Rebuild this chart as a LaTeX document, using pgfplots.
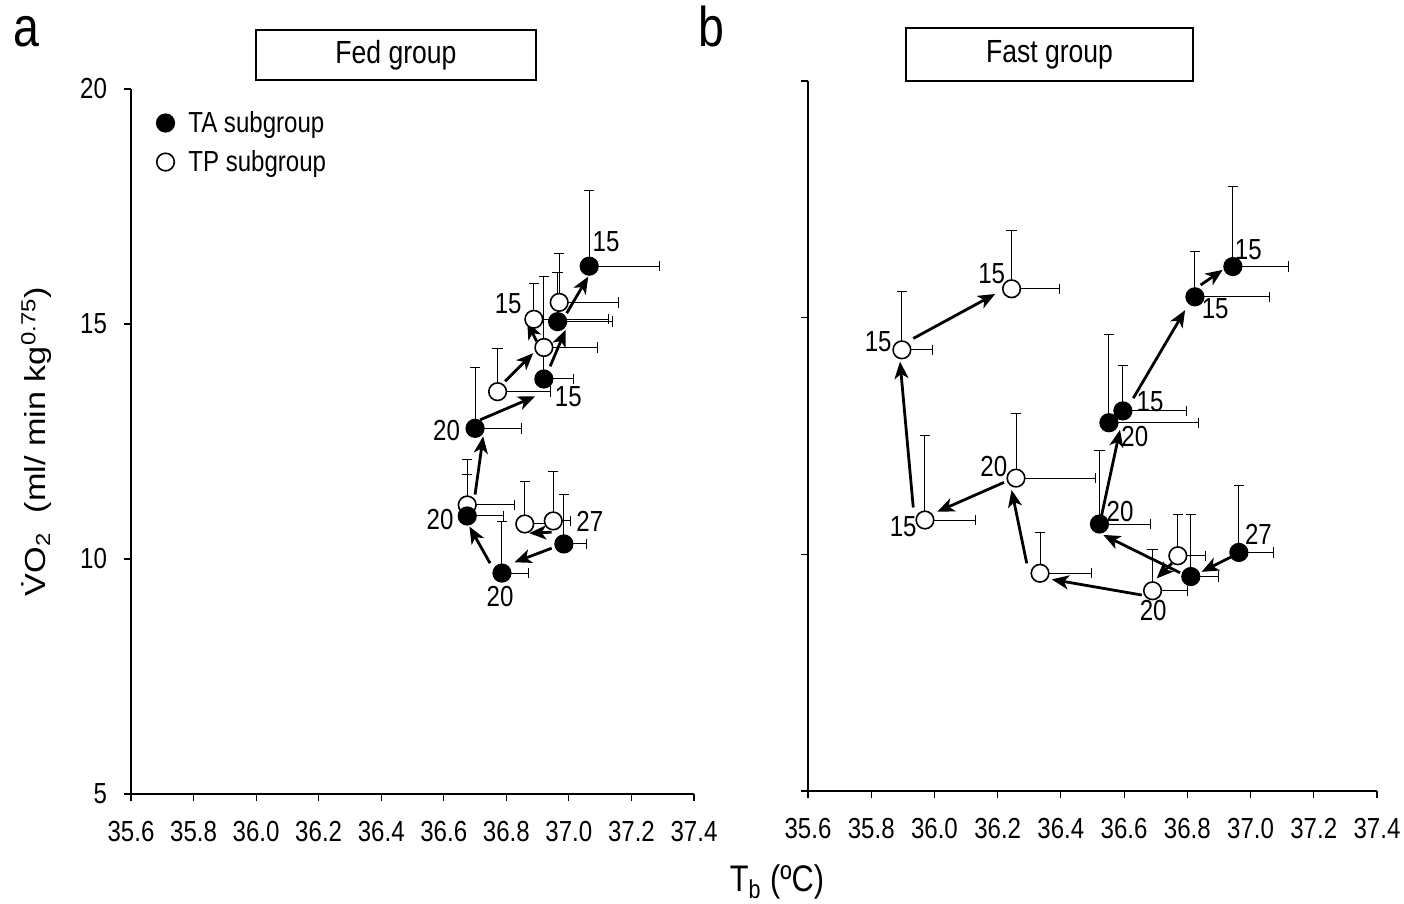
\documentclass[border=0pt]{standalone}
\usepackage{pgfplots}
\pgfplotsset{compat=1.18}
\usepackage{pgfplotstable}
\usepackage{fontspec}
\setmainfont{Liberation Sans}[FakeStretch=0.83]
\newfontfamily\tallsans{Liberation Sans}[FakeStretch=1.18]
\usetikzlibrary{arrows.meta}

\newcommand\lab{\fontsize{14.5}{17}\selectfont}

% Fed group: mean Tb, mean VO2, +SE in x and y
\pgfplotstableread{
x      y      ex     ey
36.984 10.32  0.071  1.06
36.786 9.70   0.084  1.09
36.675 10.915 0.115  0.89
36.700 12.78  0.147  1.30
36.920 13.83  0.095  0.70
36.964 15.05  0.176  1.04
37.065 16.23  0.224  1.62
}\fedTA
\pgfplotstableread{
x      y      ex     ey
36.950 10.81  0.056  1.05
36.859 10.745 0.090  0.90
36.675 11.15  0.150  0.96
36.772 13.56  0.168  0.92
36.920 14.50  0.172  1.52
36.888 15.10  0.238  0.77
36.969 15.46  0.190  1.04
}\fedTP
% Fast group
\pgfplotstableread{
x      y      ex     ey
36.963 10.04  0.111  1.42
36.811 9.53   0.089  1.31
36.522 10.64  0.160  1.55
36.552 12.78  0.283  1.87
36.596 13.03  0.200  0.95
36.824 15.44  0.235  0.95
36.944 16.08  0.175  1.70
}\fastTA
\pgfplotstableread{
x      y      ex     ey
36.770 9.97   0.089  0.875
36.690 9.23   0.110  0.87
36.334 9.60   0.163  0.865
36.258 11.61  0.250  1.37
35.970 10.725 0.161  1.775
35.897 14.32  0.097  1.23
36.244 15.61  0.150  1.24
}\fastTP

\pgfplotsset{
  vo2/.style={
    scale only axis, clip=false,
    xmin=35.6, xmax=37.4, ymin=5, ymax=20,
    axis x line*=bottom, axis y line*=left,
    axis line style={line width=0.6pt, black, -},
    xtick={35.6,35.8,36.0,36.2,36.4,36.6,36.8,37.0,37.2,37.4},
    ytick={5,10,15,20},
    tick align=outside, major tick length=3.5pt,
    tick style={line width=0.6pt, black},
    /pgf/number format/assume math mode=true,
    tick label style={font=\lab},
    xticklabel style={/pgf/number format/.cd, fixed, fixed zerofill, precision=1},
    yticklabel style={/pgf/number format/.cd, fixed, precision=0},
    xticklabel shift=6.5pt,
    yticklabel shift=5pt,
  },
  % +SE bars (up and to the right) without end caps
  sebars/.style={only marks, mark=none, forget plot,
    error bars/.cd, x dir=plus, x explicit, y dir=plus, y explicit,
    error mark=none,
    error bar style={draw=black, line width=0.5pt}},
  % end caps of the bars
  ycap/.style={only marks, mark=-, mark size=2.6pt, forget plot,
    mark options={draw=black, line width=0.5pt}},
  xcap/.style={only marks, mark=|, mark size=2.6pt, forget plot,
    mark options={draw=black, line width=0.5pt}},
  ta/.style={only marks, mark=*, mark size=4.4pt,
    mark options={fill=black, draw=black, line width=0.8pt}},
  tp/.style={only marks, mark=*, mark size=4.4pt,
    mark options={fill=white, draw=black, line width=0.8pt}},
}
\tikzset{mv/.style={-{Stealth[length=8.5pt, width=7pt, inset=2.3pt]}, line width=1.4pt, black},
  num/.style={font=\lab, inner sep=0pt}}

% bars and caps of one subgroup
\newcommand\sebars[1]{%
  \addplot[sebars] table[x=x, y=y, x error=ex, y error=ey] {#1};
  \addplot[ycap] table[x=x, y expr=\thisrow{y}+\thisrow{ey}] {#1};
  \addplot[xcap] table[x expr=\thisrow{x}+\thisrow{ex}, y=y] {#1};
}

\begin{document}
\begin{tikzpicture}
\path[use as bounding box] (0,0) rectangle (702pt,452pt);

% ---- panel a: fed group
\begin{axis}[vo2, at={(65.5pt,55pt)}, anchor=south west,
  width=281.5pt, height=352.5pt,
  ylabel={\.{V}O\textsubscript{2}\ \ (ml/ min kg\textsuperscript{0.75})},
  ylabel style={font=\tallsans\fontsize{14.5}{17}\selectfont,
    at={(axis description cs:-0.168,0.5)}, anchor=center},
  legend style={at={(axis description cs:0.045,0.975)}, anchor=north west,
    draw=none, fill=none, font=\lab, row sep=3.5pt, inner sep=0pt,
    /tikz/every odd column/.append style={column sep=5pt}},
  legend cell align=left]
% bars first, so that every marker sits on top of them
\sebars{\fedTA}
\sebars{\fedTP}
\draw[mv] (axis cs:36.945,10.23) -- (axis cs:36.826,9.93);
\draw[mv] (axis cs:36.748,9.91) -- (axis cs:36.682,10.69);
\draw[mv] (axis cs:36.700,11.37) -- (axis cs:36.726,12.61);
\draw[mv] (axis cs:36.716,12.96) -- (axis cs:36.892,13.46);
\draw[mv] (axis cs:36.940,14.10) -- (axis cs:36.990,14.88);
\draw[mv] (axis cs:36.993,15.23) -- (axis cs:37.062,16.01);
\draw[mv] (axis cs:36.945,10.57) -- (axis cs:36.873,10.55);
\draw[mv] (axis cs:36.796,13.78) -- (axis cs:36.886,14.38);
\draw[mv] (axis cs:36.897,14.63) -- (axis cs:36.867,15.04);
\addplot[tp, forget plot] table[x=x, y=y] {\fedTP};
\addplot[ta, forget plot] table[x=x, y=y] {\fedTA};
\addlegendimage{ta}\addlegendentry{TA subgroup}
\addlegendimage{tp}\addlegendentry{TP subgroup}
\node[num] at (axis cs:37.119,16.75) {15};
\node[num] at (axis cs:36.806,15.44) {15};
\node[num] at (axis cs:36.998,13.45) {15};
\node[num] at (axis cs:36.609,12.74) {20};
\node[num] at (axis cs:36.588,10.84) {20};
\node[num] at (axis cs:37.067,10.79) {27};
\node[num] at (axis cs:36.780,9.20) {20};
\end{axis}

% ---- panel b: fast group
\begin{axis}[vo2, at={(404pt,56.5pt)}, anchor=south west,
  width=284.5pt, height=355pt, yticklabels={}]
\sebars{\fastTA}
\sebars{\fastTP}
\draw[mv] (axis cs:36.940,9.95) -- (axis cs:36.845,9.63);
\draw[mv] (axis cs:36.777,9.61) -- (axis cs:36.534,10.41);
\draw[mv] (axis cs:36.529,10.83) -- (axis cs:36.587,12.63);
\draw[mv] (axis cs:36.629,13.30) -- (axis cs:36.793,15.16);
\draw[mv] (axis cs:36.842,15.69) -- (axis cs:36.912,16.01);
\draw[mv] (axis cs:36.751,9.81) -- (axis cs:36.703,9.49);
\draw[mv] (axis cs:36.656,9.14) -- (axis cs:36.371,9.47);
\draw[mv] (axis cs:36.292,9.81) -- (axis cs:36.244,11.36);
\draw[mv] (axis cs:36.220,11.52) -- (axis cs:36.009,10.90);
\draw[mv] (axis cs:35.933,10.99) -- (axis cs:35.891,14.07);
\draw[mv] (axis cs:35.933,14.56) -- (axis cs:36.192,15.50);
\addplot[tp, forget plot] table[x=x, y=y] {\fastTP};
\addplot[ta, forget plot] table[x=x, y=y] {\fastTA};
\node[num] at (axis cs:36.181,15.94) {15};
\node[num] at (axis cs:35.822,14.49) {15};
\node[num] at (axis cs:35.901,10.58) {15};
\node[num] at (axis cs:36.188,11.85) {20};
\node[num] at (axis cs:36.587,10.90) {20};
\node[num] at (axis cs:36.634,12.48) {20};
\node[num] at (axis cs:36.682,13.22) {15};
\node[num] at (axis cs:36.888,15.18) {15};
\node[num] at (axis cs:36.993,16.43) {15};
\node[num] at (axis cs:37.025,10.43) {27};
\node[num] at (axis cs:36.692,8.82) {20};
\end{axis}

% panel letters, group boxes, shared x label
\node[font=\fontsize{28}{30}\selectfont] at (13pt,436pt) {a};
\node[font=\fontsize{28}{30}\selectfont] at (355.5pt,439pt) {b};
\node[draw, line width=1pt, minimum width=140pt, minimum height=25pt,
  font=\fontsize{16}{18}\selectfont] at (198pt,424.5pt) {Fed group};
\node[draw, line width=1pt, minimum width=143.5pt, minimum height=26.5pt,
  font=\fontsize{16}{18}\selectfont] at (524.75pt,424.5pt) {Fast group};
\node[font=\fontsize{18.5}{20}\selectfont] at (388.5pt,11pt) {T\textsubscript{b} (ºC)};
\end{tikzpicture}
\end{document}
